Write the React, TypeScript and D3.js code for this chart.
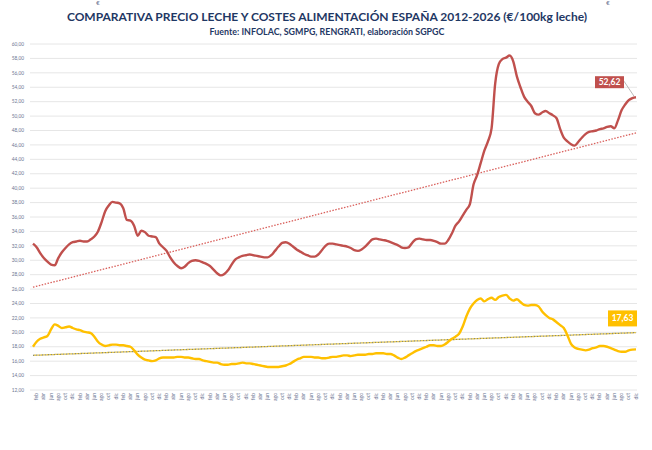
import React from 'react';
import * as d3 from 'd3';

// monthly series, ene 2012 - dic 2025
const precioLeche = [
  32.3, 31.8, 31.0, 30.3, 29.8, 29.4, 29.3, 30.3, 31.1, 31.7, 32.2, 32.5, // 2012
  32.6, 32.7, 32.6, 32.6, 32.9, 33.3, 34.0, 35.3, 36.8, 37.6, 38.1, 38.0, // 2013
  37.9, 37.2, 35.6, 35.5, 34.8, 33.4, 34.1, 33.9, 33.4, 33.3, 33.2, 32.3, // 2014
  31.8, 31.3, 30.4, 29.7, 29.2, 28.9, 29.1, 29.6, 29.9, 30.0, 29.9, 29.7, // 2015
  29.5, 29.2, 28.7, 28.2, 27.9, 28.1, 28.6, 29.4, 30.1, 30.4, 30.6, 30.7, // 2016
  30.8, 30.7, 30.6, 30.5, 30.4, 30.4, 30.7, 31.3, 31.9, 32.4, 32.5, 32.3, // 2017
  31.9, 31.5, 31.2, 30.9, 30.7, 30.5, 30.5, 30.8, 31.4, 32.0, 32.3, 32.3, // 2018
  32.2, 32.1, 32.0, 31.9, 31.7, 31.4, 31.3, 31.5, 31.9, 32.4, 32.9, 33.0, // 2019
  32.9, 32.8, 32.7, 32.5, 32.3, 32.1, 31.8, 31.7, 31.8, 32.4, 32.9, 33.0, // 2020
  32.9, 32.8, 32.8, 32.7, 32.5, 32.3, 32.3, 32.8, 33.7, 34.8, 35.4, 36.2, // 2021
  37.0, 37.8, 40.5, 41.8, 43.5, 45.2, 46.5, 48.3, 54.5, 57.2, 57.9, 58.1, // 2022
  58.4, 57.6, 55.5, 54.0, 52.7, 52.0, 51.4, 50.4, 50.2, 50.5, 50.7, 50.4, // 2023
  50.1, 49.7, 48.2, 47.0, 46.5, 46.1, 45.9, 46.4, 47.0, 47.5, 47.8, 47.9, // 2024
  48.0, 48.2, 48.3, 48.5, 48.6, 48.3, 49.4, 50.8, 51.6, 52.2, 52.5, 52.62, // 2025
];

const costeAlimentacion = [
  18.0, 18.7, 19.1, 19.3, 19.5, 20.4, 21.1, 20.9, 20.6, 20.7, 20.8, 20.6, // 2012
  20.4, 20.3, 20.1, 20.0, 19.9, 19.4, 18.7, 18.3, 18.1, 18.2, 18.3, 18.3, // 2013
  18.2, 18.2, 18.1, 18.0, 17.5, 16.9, 16.5, 16.2, 16.1, 16.0, 16.1, 16.4, // 2014
  16.5, 16.5, 16.5, 16.5, 16.6, 16.6, 16.5, 16.5, 16.4, 16.3, 16.3, 16.1, // 2015
  16.0, 15.9, 15.8, 15.8, 15.6, 15.5, 15.5, 15.6, 15.6, 15.7, 15.8, 15.7, // 2016
  15.7, 15.6, 15.5, 15.4, 15.3, 15.2, 15.2, 15.2, 15.2, 15.3, 15.4, 15.6, // 2017
  15.9, 16.2, 16.4, 16.6, 16.6, 16.6, 16.5, 16.5, 16.4, 16.4, 16.5, 16.6, // 2018
  16.6, 16.7, 16.8, 16.8, 16.7, 16.8, 16.9, 16.9, 16.9, 17.0, 17.0, 17.1, // 2019
  17.1, 17.1, 17.0, 17.0, 16.8, 16.5, 16.3, 16.5, 16.8, 17.1, 17.4, 17.6, // 2020
  17.8, 18.0, 18.2, 18.2, 18.1, 18.1, 18.3, 18.7, 19.1, 19.4, 19.8, 20.8, // 2021
  22.2, 23.3, 24.0, 24.5, 24.7, 24.3, 24.6, 24.8, 24.5, 24.9, 25.1, 25.2, // 2022
  24.7, 24.4, 24.6, 24.2, 23.8, 23.7, 23.8, 23.8, 23.6, 22.9, 22.4, 22.0, // 2023
  21.8, 21.4, 21.0, 20.6, 19.6, 18.4, 17.9, 17.7, 17.6, 17.5, 17.6, 17.8, // 2024
  17.9, 18.1, 18.1, 18.0, 17.8, 17.6, 17.4, 17.3, 17.3, 17.5, 17.6, 17.63, // 2025
];

const meses = ['ene', 'feb', 'mar', 'abr', 'may', 'jun', 'jul', 'ago', 'sep', 'oct', 'nov', 'dic'];
const yTicks = [12, 14, 16, 18, 20, 22, 24, 26, 28, 30, 32, 34, 36, 38, 40, 42, 44, 46, 48, 50, 52, 54, 56, 58, 60];

const titulo = 'COMPARATIVA PRECIO LECHE Y COSTES ALIMENTACIÓN ESPAÑA 2012-2026 (€/100kg leche)';
const fuente = 'Fuente: INFOLAC, SGMPG, RENGRATI, elaboración SGPGC';

const W = 652;
const H = 450;
const rojo = '#c0504d';
const amarillo = '#ffc000';
const ejeColor = '#6b7592';
const font = "Lato, 'Open Sans', sans-serif";

const fmt = (v: number) => d3.format('.2f')(v).replace('.', ',');

// least squares trend, like the excel trendline
function tendencia(vals: number[]) {
  const n = vals.length;
  const mx = (n - 1) / 2;
  const my = d3.mean(vals) as number;
  let num = 0;
  let den = 0;
  vals.forEach((v, i) => {
    num += (i - mx) * (v - my);
    den += (i - mx) * (i - mx);
  });
  const b = num / den;
  const a = my - b * mx;
  return [a, a + b * (n - 1)];
}

export default function App() {
  const n = precioLeche.length;
  const x = d3.scaleLinear().domain([0, n - 1]).range([33, 636]);
  const y = d3.scaleLinear().domain([12, 60]).range([390, 44]);

  const line = d3.line<number>()
    .x((d, i) => x(i))
    .y(d => y(d))
    .curve(d3.curveMonotoneX);

  const tLeche = tendencia(precioLeche);
  const tCoste = tendencia(costeAlimentacion);

  const lastL = precioLeche[n - 1];
  const lastC = costeAlimentacion[n - 1];
  const lx = x(n - 1);
  const lyL = y(lastL);
  const lyC = y(lastC);

  return (
    <svg width={W} height={H} style={{ position: 'absolute', left: 0, top: 0, background: '#fff' }}>
      <text x={98} y={5} fontSize={6} fill={ejeColor} fontFamily={font} textAnchor="middle">€</text>
      <text x={608} y={5} fontSize={6} fill={ejeColor} fontFamily={font} textAnchor="middle">€</text>

      <text x={327} y={21} textAnchor="middle" fontFamily={font} fontWeight="bold" fontSize={12} fill="#1f3864">{titulo}</text>
      <text x={327} y={35} textAnchor="middle" fontFamily={font} fontWeight="bold" fontSize={8.9} fill="#1f3864">{fuente}</text>

      {/* grid + y labels */}
      {yTicks.map(t => (
        <g key={t}>
          <line x1={30} x2={637} y1={y(t)} y2={y(t)} stroke="#e6e6e6" strokeWidth={1} />
          <text x={24} y={y(t) + 1.7} textAnchor="end" fontSize={4.8} fill={ejeColor} fontFamily={font}>{fmt(t)}</text>
        </g>
      ))}

      {/* x labels, every other month */}
      {precioLeche.map((d, i) => i % 2 === 1 ? (
        <text key={i} transform={`translate(${x(i) + 1.6},393) rotate(-90)`} textAnchor="end"
          fontSize={5} fill={ejeColor} fontFamily={font}>{meses[i % 12]}</text>
      ) : null)}

      {/* trend lines */}
      <line x1={x(0)} x2={x(n - 1)} y1={y(tLeche[0])} y2={y(tLeche[1])}
        stroke="#d9605c" strokeWidth={1.3} strokeDasharray="1.5,1.5" />
      <line x1={x(0)} x2={x(n - 1)} y1={y(tCoste[0])} y2={y(tCoste[1])}
        stroke="#8c8c6e" strokeWidth={1.3} strokeDasharray="1.5,1.5" />
      <line x1={x(0)} x2={x(n - 1)} y1={y(tCoste[0])} y2={y(tCoste[1])}
        stroke="#e8c230" strokeWidth={1.3} strokeDasharray="1.5,1.5" strokeDashoffset={1.5} />

      {/* series */}
      <path d={line(precioLeche) || ''} fill="none" stroke={rojo} strokeWidth={2.4} strokeLinejoin="round" />
      <path d={line(costeAlimentacion) || ''} fill="none" stroke={amarillo} strokeWidth={2.4} strokeLinejoin="round" />

      {/* last value labels */}
      <line x1={lx - 12} y1={lyL - 16} x2={lx - 2} y2={lyL - 1} stroke="#a6a6a6" strokeWidth={0.8} />
      <rect x={lx - 41} y={lyL - 21} width={29} height={12} fill={rojo} />
      <text x={lx - 26.5} y={lyL - 12} textAnchor="middle" fontFamily={font} fontWeight="bold" fontSize={8.5} fill="#fff">{fmt(lastL)}</text>

      <rect x={lx - 28} y={lyC - 39} width={29} height={16} fill={amarillo} />
      <text x={lx - 13.5} y={lyC - 28} textAnchor="middle" fontFamily={font} fontWeight="bold" fontSize={8.5} fill="#fff">{fmt(lastC)}</text>
    </svg>
  );
}
